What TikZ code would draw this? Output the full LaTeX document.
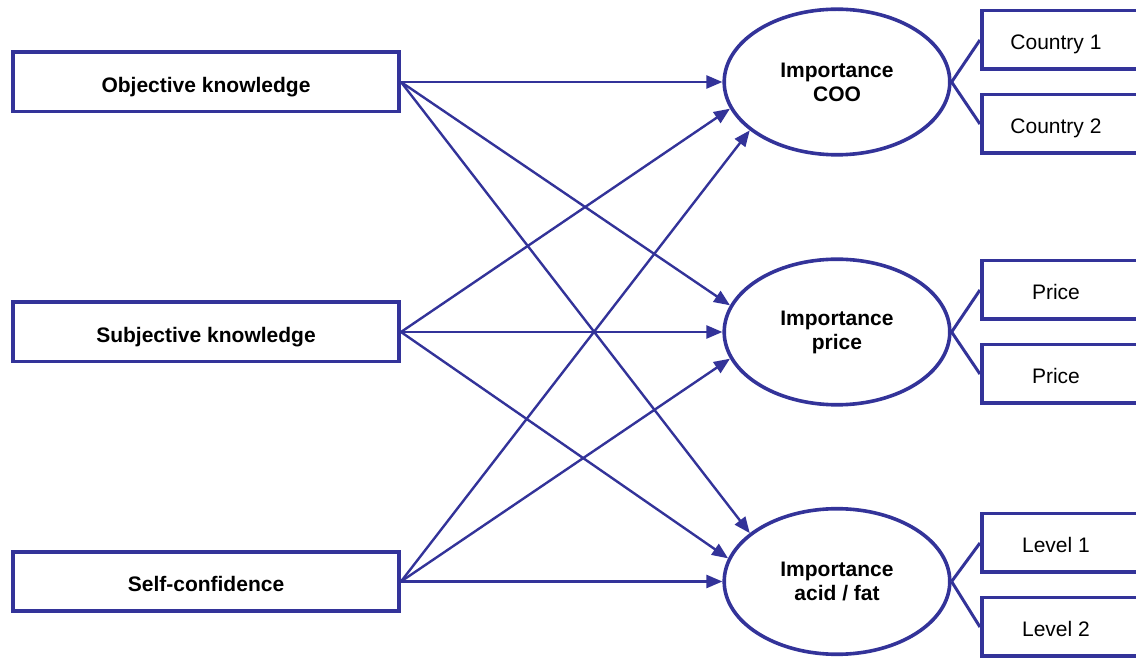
\documentclass[tikz,border=0pt]{standalone}
\usepackage{fontspec}
\setmainfont{Liberation Sans}
\usetikzlibrary{arrows.meta,shapes.geometric}
\definecolor{navy}{RGB}{51,51,153}

\begin{document}
\begin{tikzpicture}[
  x=0.5pt, y=0.5pt,
  font=\fontsize{10.5}{12}\selectfont,
  lbox/.style={
    draw=navy,
    line width=1.8pt,
    minimum width=193.2pt,
    minimum height=29.7pt,
    text height=12.5pt,
    text depth=2.2pt,
    font=\fontsize{10.5}{12}\selectfont\bfseries
  },
  latent/.style={
    draw=navy,
    ellipse,
    line width=1.8pt,
    minimum width=112.8pt,
    minimum height=72.8pt,
    align=center,
    inner sep=0pt,
    font=\fontsize{10.5}{12}\selectfont\bfseries
  },
  rbox/.style={
    draw=navy,
    line width=1.8pt,
    minimum width=84pt,
    minimum height=29.3pt
  },
  rtext/.style={xshift=-4.9pt, yshift=-1pt, text height=7.6pt, text depth=0pt},
  arrow/.style={-{Triangle[length=8pt,width=6.5pt]}, draw=navy, line width=1.2pt},
  link/.style={draw=navy, line width=1.5pt}
]
\useasboundingbox (0,0) rectangle (1136,659);

\node[lbox] (obj) at (206,577) {Objective knowledge};
\node[lbox] (subj) at (206,327) {Subjective knowledge};
\node[lbox] (self) at (206,77.5) {Self-confidence};

\node[latent] (coo) at (837,577) {Importance\\COO};
\node[latent] (price) at (837,327) {Importance\\price};
\node[latent] (acid) at (837,77.5) {Importance\\acid / fat};

\node[rbox, label={[rtext]center:Country 1}] (cty1) at (1065.75,619) {};
\node[rbox, label={[rtext]center:Country 2}] (cty2) at (1065.75,535) {};
\node[rbox, label={[rtext]center:Price}] (pr1) at (1065.75,369) {};
\node[rbox, label={[rtext]center:Price}] (pr2) at (1065.75,285) {};
\node[rbox, label={[rtext]center:Level 1}] (lev1) at (1065.75,116) {};
\node[rbox, label={[rtext]center:Level 2}] (lev2) at (1065.75,32) {};

\draw[arrow] (obj.east) -- (coo.180);
\draw[arrow] (obj.east) -- (price.166.7);
\draw[arrow] (obj.east) -- (acid.151.4);
\draw[arrow] (subj.east) -- (coo.194.2);
\draw[arrow] (subj.east) -- (price.180);
\draw[arrow] (subj.east) -- (acid.168.6);
\draw[arrow] (self.east) -- (coo.209.9);
\draw[arrow] (self.east) -- (price.194.5);
\draw[arrow] (self.east) -- (acid.180);

\draw[link] (coo.east) -- (cty1.west);
\draw[link] (coo.east) -- (cty2.west);
\draw[link] (price.east) -- (pr1.west);
\draw[link] (price.east) -- (pr2.west);
\draw[link] (acid.east) -- (lev1.west);
\draw[link] (acid.east) -- (lev2.west);
\end{tikzpicture}
\end{document}
